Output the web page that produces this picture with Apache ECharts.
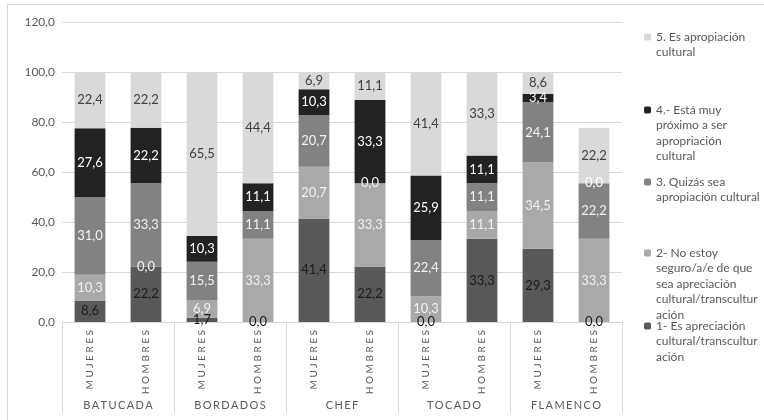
<!DOCTYPE html>
<html>
<head>
<meta charset="utf-8">
<script src="https://cdn.jsdelivr.net/npm/echarts@6/dist/echarts.min.js"></script>
<style>
html, body { margin: 0; padding: 0; background: #fff; }
#chart { width: 764px; height: 420px; }
</style>
</head>
<body>
<div id="chart"></div>
<script>
var groups = ['BATUCADA', 'BORDADOS', 'CHEF', 'TOCADO', 'FLAMENCO'];
var subCats = ['MUJERES', 'HOMBRES', 'MUJERES', 'HOMBRES', 'MUJERES', 'HOMBRES', 'MUJERES', 'HOMBRES', 'MUJERES', 'HOMBRES'];
var yTicks = [0, 20, 40, 60, 80, 100, 120];

var names = [
    '1- Es apreciación\ncultural/transcultur\nación',
    '2- No estoy\nseguro/a/e de que\nsea apreciación\ncultural/transcultur\nación',
    '3. Quizás sea\napropiación cultural',
    '4.- Está muy\npróximo a ser\napropriación\ncultural',
    '5. Es apropiación\ncultural'
];
var s1 = [8.6, 22.2, 1.7, 0.0, 41.4, 22.2, 0.0, 33.3, 29.3, 0.0];
var s2 = [10.3, 0.0, 6.9, 33.3, 20.7, 33.3, 10.3, 11.1, 34.5, 33.3];
var s3 = [31.0, 33.3, 15.5, 11.1, 20.7, 0.0, 22.4, 11.1, 24.1, 22.2];
var s4 = [27.6, 22.2, 10.3, 11.1, 10.3, 33.3, 25.9, 11.1, 3.4, 0.0];
var s5 = [22.4, 22.2, 65.5, 44.4, 6.9, 11.1, 41.4, 33.3, 8.6, 22.2];

var barColors = ['#595959', '#a9a9a9', '#828282', '#222222', '#d9d9d9'];
var labelColors = ['#1a1a1a', '#f2f2f2', '#f2f2f2', '#ffffff', '#404040'];

function spaced(t, sep) {
    return t.split('').join(sep);
}
function comma(v) {
    return Number(v).toFixed(1).replace('.', ',');
}

var dom = document.getElementById('chart');
var myChart = echarts.init(dom, null, { renderer: 'canvas' });

var allData = [s1, s2, s3, s4, s5];
var seriesData = [];
allData.forEach(function (d, i) {
    seriesData.push({
        name: names[i],
        type: 'bar',
        stack: 'Total',
        barWidth: '55%',
        xAxisIndex: 0,
        itemStyle: { color: barColors[i] },
        label: {
            show: true,
            position: 'inside',
            color: labelColors[i],
            fontSize: 13,
            formatter: function (p) { return comma(p.value); }
        },
        data: d
    });
});

// legend, one block per entry, so the first lines sit at even steps like the original.
// blank lines in front push the marker up to the first text line
var lh = 15.5;
var firstLine = [326, 253, 182, 110, 37];
var legends = [];
names.forEach(function (n, i) {
    var lines = n.split('\n').length;
    legends.push({
        data: [n],
        orient: 'vertical',
        left: 644,
        top: firstLine[i] - lh / 2 - (lines - 1) * lh,
        padding: 0,
        itemWidth: 7,
        itemHeight: 7,
        itemGap: 0,
        selectedMode: false,
        formatter: function (name) {
            return new Array(lines).join('\n') + name;
        },
        textStyle: {
            color: '#595959',
            fontSize: 12,
            lineHeight: lh
        }
    });
});

var option = {
    animation: false,
    textStyle: { fontFamily: 'Lato, "Liberation Sans", sans-serif' },
    grid: { left: 62, right: 142, top: 22, bottom: 98 },
    legend: legends,
    xAxis: [
        {
            type: 'category',
            data: subCats.map(function (t) { return spaced(t, ' '); }),
            position: 'bottom',
            axisLine: { onZero: false, lineStyle: { color: '#d9d9d9' } },
            axisTick: { show: false },
            axisLabel: { rotate: 90, interval: 0, fontSize: 10, color: '#595959', margin: 8 }
        },
        {
            type: 'category',
            data: groups.map(function (t) { return spaced(t, '\u2009'); }),
            position: 'bottom',
            axisLine: { show: false, onZero: false },
            axisTick: { show: true, length: 91, lineStyle: { color: '#d9d9d9' } },
            axisLabel: { interval: 0, fontSize: 11, color: '#595959', margin: 78 }
        }
    ],
    yAxis: {
        type: 'value',
        min: yTicks[0],
        max: yTicks[yTicks.length - 1],
        interval: 20,
        axisLine: { show: false },
        axisTick: { show: false },
        splitLine: { lineStyle: { color: '#d9d9d9' } },
        axisLabel: { color: '#595959', fontSize: 12, margin: 7, formatter: comma }
    },
    graphic: [{
        type: 'rect',
        silent: true,
        shape: { x: 7.5, y: 4.5, width: 800, height: 500 },
        style: { fill: 'none', stroke: '#d4d4d4', lineWidth: 1 }
    }],
    series: seriesData
};

if (option && typeof option === 'object') {
    myChart.setOption(option);
}

window.addEventListener('resize', myChart.resize);
</script>
</body>
</html>
